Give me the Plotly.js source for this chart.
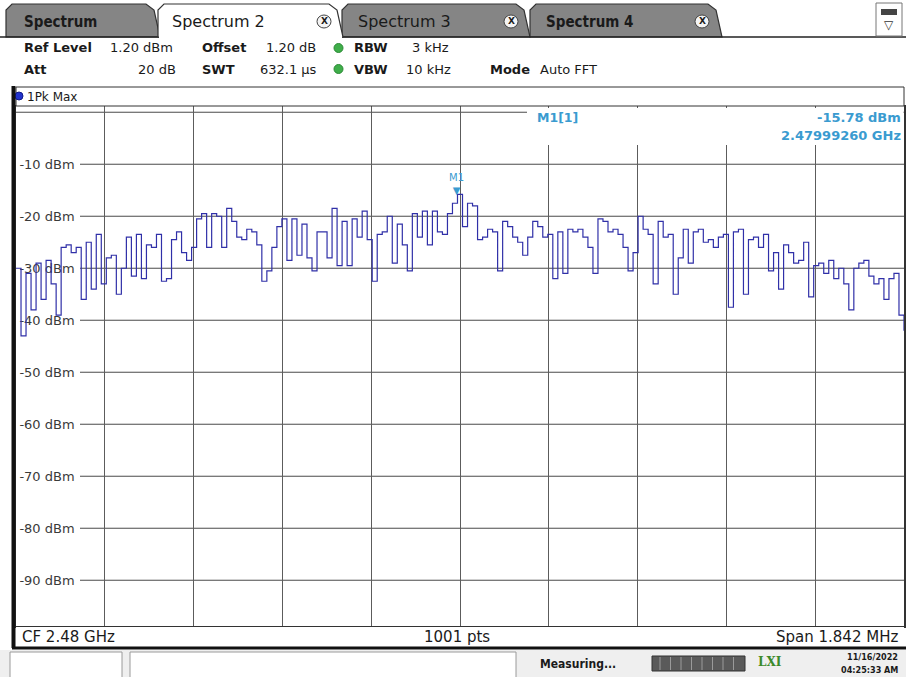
<!DOCTYPE html>
<html><head><meta charset="utf-8">
<script src="https://cdn.plot.ly/plotly-3.0.1.min.js"></script>
<style>html,body{margin:0;padding:0;background:#fff;}#chart{width:906px;height:677px;}</style>
</head><body><div id="chart"></div>
<script>
// ---- instrument settings ----
const centerMHz = 2480.0;
const spanMHz = 1.842;
const refLevel = 1.20;
const rangeDb = 100;
const levelTicks = [-10, -20, -30, -40, -50, -60, -70, -80, -90];
const levelTickText = ['-10 dBm', '-20 dBm', '-30 dBm', '-40 dBm', '-50 dBm', '-60 dBm', '-70 dBm', '-80 dBm', '-90 dBm'];
const topGridLevel = 0;
const markerFreqMHz = 2479.99260;
const markerLevel = -15.78;

// ---- trace (1Pk Max), evenly spaced across the span ----
const traceLevels = [
 -30, -43, -31, -38, -29, -36, -28.5, -33, -39, -26,
 -25.5, -27, -26, -36, -25, -34, -23.5, -33, -28, -27.5,
 -35, -30, -24, -31.5, -23.5, -32, -25.5, -26, -23.5, -32.5,
 -32, -24.5, -23, -27, -28.5, -26, -20.5, -19.5, -26, -19.5,
 -20, -26, -18.5, -21, -24, -24.5, -22.5, -23, -25.5, -32.5,
 -30.5, -26, -22, -20.5, -28.5, -20.5, -27.5, -21.5, -28, -30.5,
 -23, -23, -28, -18.5, -29.5, -21, -29.5, -20.5, -24, -19,
 -24.5, -32.5, -23.5, -23, -20, -29, -21.5, -25.5, -30.5, -19.5,
 -24, -19, -25.5, -19, -23, -23.5, -19.5, -17.5, -15.78, -22,
 -17.5, -18, -24.5, -24, -22.5, -23, -30.5, -21, -22, -24,
 -25, -27.5, -24, -21, -22, -24, -23.5, -32, -23, -31,
 -22.5, -23, -22.5, -24, -26, -31, -20.5, -21, -23, -22.5,
 -23.5, -26, -30.5, -27, -20, -22.5, -23.5, -33, -21, -24,
 -23.5, -35, -28, -22.5, -29, -23, -22.5, -25, -24.5, -26,
 -24, -23.5, -37.5, -23, -22.5, -35, -24.5, -24, -26, -23.5,
 -30.5, -27, -34, -25.5, -27, -29, -28.5, -25, -35.5, -29.5,
 -29, -31, -28.5, -32, -30, -33, -38, -30, -29, -28.5,
 -31.5, -33, -32, -36, -32, -31, -39, -42
];

const fStart = centerMHz - spanMHz / 2;
const fStop = centerMHz + spanMHz / 2;
const traceFreqs = traceLevels.map((_, i) => fStart + i * spanMHz / (traceLevels.length - 1));

// ---- pixel helpers for the instrument frame ----
const L = 16, T = 106, W = 888, H = 520;
const px = x => (x - L) / W;
const py = y => (T + H - y) / H;
const shapes = [];
const ann = [];
function rect(x0, y0, x1, y1, fill, line, lw, layer) {
  shapes.push({type: 'rect', xref: 'paper', yref: 'paper', x0: px(x0), x1: px(x1), y0: py(y1), y1: py(y0),
    fillcolor: fill, line: {color: line || fill, width: lw === undefined ? 1 : lw}, layer: layer || 'above'});
}
function hline(x0, x1, y, color, w) {
  shapes.push({type: 'line', xref: 'paper', yref: 'paper', x0: px(x0), x1: px(x1), y0: py(y), y1: py(y), line: {color: color, width: w}});
}
function vline(x, y0, y1, color, w) {
  shapes.push({type: 'line', xref: 'paper', yref: 'paper', x0: px(x), x1: px(x), y0: py(y0), y1: py(y1), line: {color: color, width: w}});
}
function path(pts, fill, line, lw) {
  const d = pts.map((p, i) => (i ? 'L' : 'M') + px(p[0]).toFixed(5) + ',' + py(p[1]).toFixed(5)).join(' ') + ' Z';
  shapes.push({type: 'path', xref: 'paper', yref: 'paper', path: d, fillcolor: fill, line: {color: line, width: lw}});
}
function text(x, y, s, o) {
  o = o || {};
  ann.push({xref: 'paper', yref: 'paper', x: px(x), y: py(y), text: s, showarrow: false,
    xanchor: o.anchor || 'left', yanchor: 'middle',
    font: {family: o.family || 'DejaVu Sans', size: o.size || 12, color: o.color || '#1a1a1a', weight: o.bold ? 'bold' : 'normal'}});
}

// horizontal level gridlines (drawn after the in-plot level labels)
levelTicks.forEach(v => shapes.push({type: 'line', xref: 'paper', yref: 'y', x0: px(80), x1: 1, y0: v, y1: v,
  line: {color: '#4a4a4a', width: 1}, layer: 'below'}));
shapes.push({type: 'line', xref: 'paper', yref: 'y', x0: 0, x1: 1, y0: topGridLevel, y1: topGridLevel,
  line: {color: '#4a4a4a', width: 1}, layer: 'below'});

// page backgrounds
rect(0, 0, 906, 38, '#ffffff', '#ffffff', 0);
// tabs
function tab(x0, x1, fill) {
  path([[x0, 37], [x0, 10], [x0 + 6, 4], [x1 - 14, 4], [x1 - 6, 10], [x1, 37]], fill, '#333333', 1.2);
}
tab(6, 160, '#858585');
tab(342, 530, '#858585');
tab(530, 722, '#858585');
hline(0, 906, 37, '#222222', 1.5);
tab(158, 343, '#ffffff');
hline(159, 342, 37, '#ffffff', 2);
text(22, 22, 'Spectrum', {bold: true, size: 15, family: 'DejaVu Sans Condensed'});
text(170, 22, 'Spectrum 2', {size: 16});
text(356, 22, 'Spectrum 3', {size: 16, color: '#1a1a1a'});
text(544, 22, 'Spectrum 4', {size: 15, bold: true, family: 'DejaVu Sans Condensed', color: '#1a1a1a'});
function closeBtn(x) {
  shapes.push({type: 'circle', xref: 'paper', yref: 'paper', x0: px(x - 7), x1: px(x + 7), y0: py(28), y1: py(15),
    fillcolor: '#f4f4f4', line: {color: '#444', width: 1}});
  text(x, 21.5, 'X', {anchor: 'center', size: 9, bold: true});
}
closeBtn(324); closeBtn(511); closeBtn(702);
// top-right icon
rect(876, 3, 902, 36, '#ffffff', '#777777', 1);
rect(881, 9, 897, 15, '#444444', '#444444', 0);
text(889, 25, '▽', {anchor: 'center', size: 12, color: '#333'});

// settings panel
rect(10, 38, 906, 87, '#ffffff', '#ffffff', 0);
const B = {bold: true, size: 13};
const N = {size: 13};
text(22, 48, 'Ref Level', B);
text(108, 48, '1.20 dBm', N);
text(200, 48, 'Offset', B);
text(264, 48, '1.20 dB', N);
text(352, 48, 'RBW', B);
text(410, 48, '3 kHz', N);
text(22, 69, 'Att', B);
text(178, 69, '20 dB', {size: 13, anchor: 'right'});
text(200, 69, 'SWT', B);
text(258, 69, '632.1 µs', N);
text(352, 69, 'VBW', B);
text(404, 69, '10 kHz', N);
text(488, 69, 'Mode', B);
text(538, 69, 'Auto FFT', N);
[48, 69].forEach(y => shapes.push({type: 'circle', xref: 'paper', yref: 'paper', x0: px(334), x1: px(343), y0: py(y + 4.5), y1: py(y - 4.5),
  fillcolor: '#3fae4a', line: {color: '#2b8a35', width: 1}}));

// trace header
rect(16, 87, 904, 106, '#ffffff', '#333333', 1);
shapes.push({type: 'circle', xref: 'paper', yref: 'paper', x0: px(15), x1: px(23), y0: py(100), y1: py(92),
  fillcolor: '#2233cc', line: {color: '#111a88', width: 1}});
text(25, 96.5, '1Pk Max', {size: 12});

// marker info block
rect(527, 108, 903.5, 145, '#ffffff', '#ffffff', 0);
text(535, 117, 'M1[1]', {size: 12.5, bold: true, color: '#3a9bd0'});
text(903, 117, '-15.78 dBm', {size: 13, bold: true, color: '#3a9bd0', anchor: 'right'});
text(903, 135, '2.47999260 GHz', {size: 13, bold: true, color: '#3a9bd0', anchor: 'right'});

// footer
rect(16, 627, 904, 647, '#ffffff', '#ffffff', 0);
hline(12, 906, 648, '#111111', 3);
text(20, 637, 'CF 2.48 GHz', {size: 15});
text(457, 637, '1001 pts', {size: 15, anchor: 'center'});
text(900, 637, 'Span 1.842 MHz', {size: 15, anchor: 'right'});
// left thick frame
vline(13.5, 86, 648, '#111111', 4);

// status bar
rect(0, 650, 906, 677, '#efefef', '#efefef', 0);
rect(10, 652, 122, 680, '#ffffff', '#9a9a9a', 1);
rect(130, 652, 516, 680, '#ffffff', '#9a9a9a', 1);
text(538, 664, 'Measuring...', {size: 12, bold: true, family: 'DejaVu Sans Condensed'});
rect(652, 656, 745, 671, '#5a5a5a', '#333333', 1);
for (let k = 0; k < 8; k++) vline(660 + k * 10.5, 657, 670, '#9a9a9a', 1);
text(770, 662, 'LXI', {size: 12, bold: true, color: '#3c8a2a', anchor: 'center', family: 'DejaVu Serif'});
text(900, 657, '11/16/2022', {size: 9, bold: true, anchor: 'right', family: 'DejaVu Sans Condensed'});
text(900, 670, '04:25:33 AM', {size: 9, bold: true, anchor: 'right', family: 'DejaVu Sans Condensed'});

// marker M1
ann.push({x: markerFreqMHz, y: markerLevel, xref: 'x', yref: 'y', text: 'M1<br>▼', showarrow: false,
  xanchor: 'center', yanchor: 'bottom', yshift: -4,
  font: {family: 'DejaVu Sans', size: 10, color: '#3a9bd0'}});

const data = [{
  x: traceFreqs, y: traceLevels, type: 'scatter', mode: 'lines',
  line: {color: '#3030a8', width: 1.2, shape: 'hv'}, hoverinfo: 'skip'
}];

const layout = {
  width: 906, height: 677,
  margin: {l: L, r: 906 - L - W, t: T, b: 677 - T - H, pad: 0},
  paper_bgcolor: '#ffffff', plot_bgcolor: '#ffffff',
  showlegend: false,
  xaxis: {range: [fStart, fStop], tick0: fStart, dtick: spanMHz / 10, showticklabels: false, ticks: '',
    showgrid: true, gridcolor: '#5c5c5c', gridwidth: 1, zeroline: false,
    showline: true, mirror: true, linecolor: '#333333', linewidth: 1.5, fixedrange: true},
  yaxis: {range: [refLevel - rangeDb, refLevel], tickvals: levelTicks, ticktext: levelTickText,
    ticklabelposition: 'inside', ticklabelstandoff: 3, layer: 'below traces', ticks: '',
    tickfont: {family: 'DejaVu Sans', size: 13, color: '#3a3a3a'},
    showgrid: false, zeroline: false,
    showline: true, mirror: true, linecolor: '#333333', linewidth: 1.5, fixedrange: true},
  shapes: shapes, annotations: ann
};
Plotly.newPlot('chart', data, layout, {displayModeBar: false, staticPlot: true});
</script></body></html>
